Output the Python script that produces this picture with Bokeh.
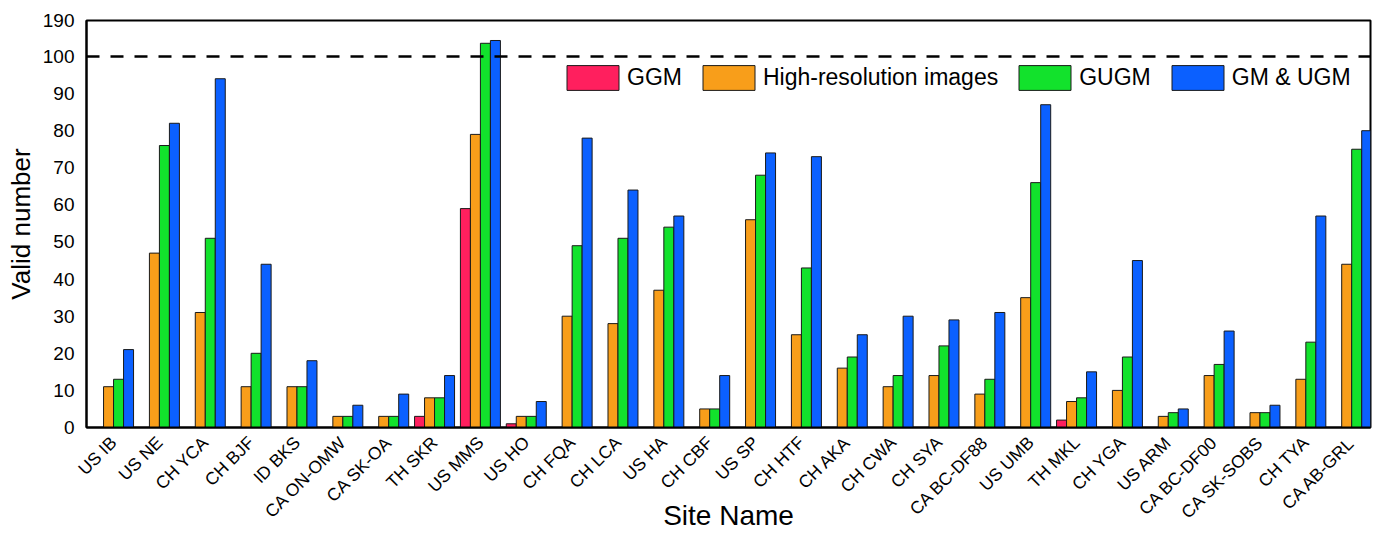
from bokeh.plotting import figure
from bokeh.models import Range1d, FixedTicker, Span, Legend, LegendItem, ColumnDataSource
from bokeh.transform import dodge
from bokeh.embed import file_html
from bokeh.resources import INLINE
import math

sites = ["US IB", "US NE", "CH YCA", "CH BJF", "ID BKS", "CA ON-OMW", "CA SK-OA", "TH SKR",
         "US MMS", "US HO", "CH FQA", "CH LCA", "US HA", "CH CBF", "US SP", "CH HTF",
         "CH AKA", "CH CWA", "CH SYA", "CA BC-DF88", "US UMB", "TH MKL", "CH YGA", "US ARM",
         "CA BC-DF00", "CA SK-SOBS", "CH TYA", "CA AB-GRL"]
ggm =    [0, 0, 0, 0, 0, 0, 0, 3, 59, 1, 0, 0, 0, 0, 0, 0, 0, 0, 0, 0, 0, 2, 0, 0, 0, 0, 0, 0]
hr =     [11, 47, 31, 11, 11, 3, 3, 8, 79, 3, 30, 28, 37, 5, 56, 25, 16, 11, 14, 9, 35, 7, 10, 3, 14, 4, 13, 44]
gugm =   [13, 76, 51, 20, 11, 3, 3, 8, 133, 3, 49, 51, 54, 5, 68, 43, 19, 14, 22, 13, 66, 8, 19, 4, 17, 4, 23, 75]
gm_ugm = [21, 82, 94, 44, 18, 6, 9, 14, 140, 7, 78, 64, 57, 14, 74, 73, 25, 30, 29, 31, 87, 15, 45, 5, 26, 6, 57, 80]
series_names = ["GGM", "High-resolution images", "GUGM", "GM & UGM"]
y_tick_values = [0, 10, 20, 30, 40, 50, 60, 70, 80, 90, 100, 190]
threshold = 100

# broken y axis: linear 0..100, compressed 100..190
BREAK = 100
TOP = 190
COMPRESS = 9.7 / 90.0


def tr(v):
    return v if v <= BREAK else BREAK + (v - BREAK) * COMPRESS


colors = ["#FF1F5E", "#F89E1A", "#12E22C", "#0B60FF"]

src = ColumnDataSource(dict(
    x=list(range(len(sites))),
    s0=[tr(v) for v in ggm],
    s1=[tr(v) for v in hr],
    s2=[tr(v) for v in gugm],
    s3=[tr(v) for v in gm_ugm],
))

p = figure(width=1380, height=534,
           x_range=Range1d(-0.59, len(sites) - 0.59),
           y_range=Range1d(0, tr(TOP)),
           output_backend="svg", toolbar_location=None,
           min_border_left=86, min_border_right=10, min_border_top=20, min_border_bottom=106)

bw = 0.218
renderers = []
for k in range(4):
    r = p.vbar(x=dodge("x", (k - 1.5) * bw, range=p.x_range), top="s%d" % k, width=bw,
               source=src, fill_color=colors[k], line_color="#1a1a1a", line_width=1)
    renderers.append(r)

p.add_layout(Span(location=tr(threshold), dimension="width", line_color="black",
                  line_width=2.5, line_dash="13 11"))

legend = Legend(items=[LegendItem(label=series_names[k], renderers=[renderers[k]]) for k in range(4)],
                orientation="horizontal", location=(474, 334),
                glyph_width=65, glyph_height=31, label_standoff=2, spacing=14,
                padding=0, margin=0, border_line_alpha=0, background_fill_alpha=0,
                label_text_font="Liberation Sans", label_text_font_size="23px",
                label_text_color="black", label_height=31)
p.add_layout(legend)

p.xgrid.visible = False
p.ygrid.visible = False
p.outline_line_color = "black"
p.outline_line_width = 2

p.xaxis.ticker = FixedTicker(ticks=list(range(len(sites))))
p.xaxis.major_label_overrides = {i: s for i, s in enumerate(sites)}
p.xaxis.major_label_orientation = math.pi / 4
p.xaxis.axis_label = "Site Name"

p.yaxis.ticker = FixedTicker(ticks=[tr(v) for v in y_tick_values])
p.yaxis.major_label_overrides = {tr(v): str(v) for v in y_tick_values}
p.yaxis.axis_label = "Valid number"

for ax in (p.xaxis, p.yaxis):
    ax.axis_line_width = 2
    ax.axis_line_color = "black"
    ax.major_tick_line_color = None
    ax.minor_tick_line_color = None
    ax.major_label_text_font = "Liberation Sans"
    ax.major_label_text_color = "black"
    ax.axis_label_text_font = "Liberation Sans"
    ax.axis_label_text_font_style = "normal"
    ax.axis_label_text_color = "black"

p.xaxis.major_label_text_font_size = "17.5px"
p.xaxis.major_label_standoff = 6
p.xaxis.axis_label_text_font_size = "28px"
p.xaxis.axis_label_standoff = -32

p.yaxis.major_label_text_font_size = "19px"
p.yaxis.axis_label_text_font_size = "26px"
p.yaxis.major_label_standoff = 6
p.yaxis.axis_label_standoff = 4

open("out.html", "w").write(file_html(p, INLINE))
